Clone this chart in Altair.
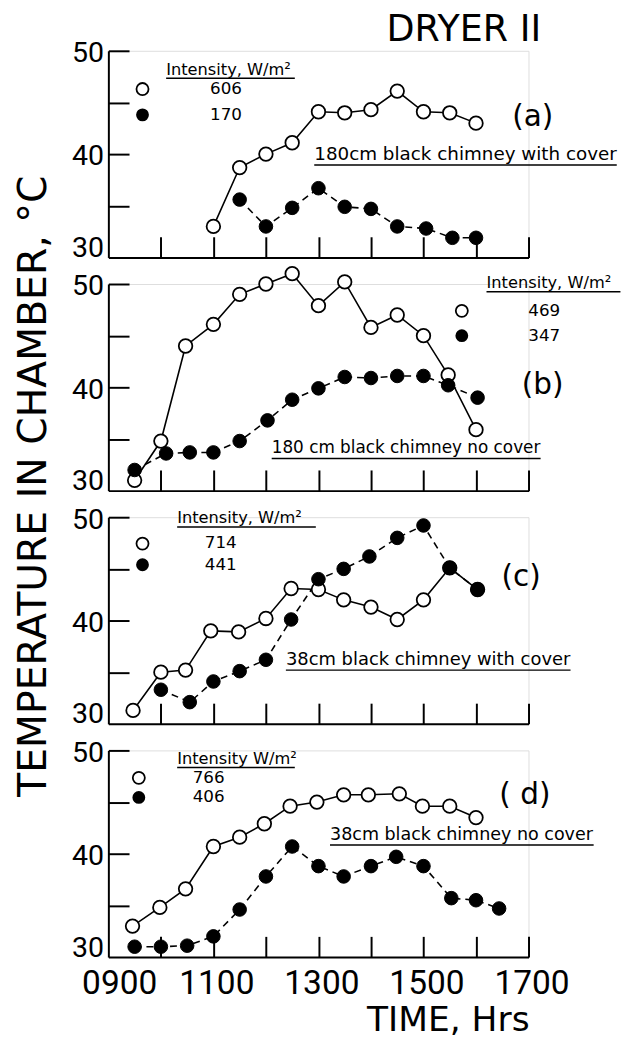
import altair as alt
import pandas as pd

# ---------------- data ----------------
A_OPEN_T = [11.0, 11.5, 12.0, 12.5, 13.0, 13.5, 14.0, 14.5, 15.0, 15.5, 16.0]
A_OPEN_V = [33.0, 38.7, 40.0, 41.1, 44.1, 44.0, 44.3, 46.1, 44.1, 44.0, 43.0]
A_FILL_T = [11.5, 12.0, 12.5, 13.0, 13.5, 14.0, 14.5, 15.05, 15.55, 16.0]
A_FILL_V = [35.6, 33.0, 34.8, 36.7, 34.9, 34.7, 33.0, 32.8, 31.9, 31.9]

B_OPEN_T = [9.5, 10.0, 10.47, 11.0, 11.5, 12.0, 12.5, 13.0, 13.5, 14.0, 14.5, 15.0, 15.47, 16.0]
B_OPEN_V = [31.0, 34.8, 44.0, 46.1, 49.0, 50.0, 51.0, 47.9, 50.2, 45.8, 47.0, 45.0, 41.2, 35.9]
B_FILL_T = [9.5, 10.1, 10.55, 11.0, 11.5, 12.03, 12.5, 13.0, 13.5, 14.0, 14.5, 15.0, 15.47, 16.03]
B_FILL_V = [32.0, 33.6, 33.7, 33.7, 34.8, 36.8, 38.8, 39.9, 41.0, 40.9, 41.1, 41.1, 40.2, 39.0]

C_OPEN_T = [9.47, 10.0, 10.47, 10.95, 11.48, 12.0, 12.48, 13.0, 13.48, 14.0, 14.5, 15.0, 15.5, 16.03]
C_OPEN_V = [31.3, 35.0, 35.2, 39.0, 38.9, 40.2, 43.1, 43.0, 42.0, 41.3, 40.1, 42.0, 45.1, 43.0]
C_FILL_T = [10.0, 10.55, 11.0, 11.5, 12.0, 12.48, 13.0, 13.48, 13.97, 14.5, 15.0, 15.5, 16.03]
C_FILL_V = [33.3, 32.1, 34.1, 35.1, 36.2, 40.1, 44.0, 45.0, 46.2, 48.0, 49.2, 45.1, 43.0]

D_OPEN_T = [9.46, 9.98, 10.47, 11.0, 11.5, 11.97, 12.46, 12.97, 13.48, 13.95, 14.54, 14.98, 15.5, 16.0]
D_OPEN_V = [33.0, 34.8, 36.6, 40.7, 41.6, 42.9, 44.6, 45.0, 45.7, 45.7, 45.8, 44.6, 44.6, 43.5]
D_FILL_T = [9.5, 10.0, 10.5, 11.0, 11.5, 12.0, 12.5, 13.0, 13.48, 14.0, 14.48, 15.0, 15.53, 16.0, 16.44]
D_FILL_V = [31.0, 31.0, 31.1, 32.0, 34.6, 37.8, 40.7, 38.8, 37.8, 38.8, 39.7, 38.8, 35.7, 35.5, 34.7]

FIGURE_TITLE = "DRYER II"
INTENSITY_OPEN = ["606", "469", "714", "766"]
INTENSITY_FILL = ["170", "347", "441", "406"]
LEGEND_TITLES = ["Intensity, W/m²", "Intensity, W/m²", "Intensity, W/m²", "Intensity W/m²"]
PANEL_LABELS = ["(a)", "(b)", "(c)", "( d)"]
CHIMNEY_LABELS = [
    "180cm black chimney with cover",
    "180 cm black chimney no cover",
    "38cm black chimney with cover",
    "38cm black chimney no cover",
]
X_LABEL_TICKS = [9, 11, 13, 15, 17]
X_MINOR_TICKS = [10, 11, 12, 13, 14, 15, 16, 17]
Y_LABEL_TICKS = [30, 40, 50]
Y_MINOR_TICKS = [35, 40, 45, 50]

# ---------------- annotation placement (data units) ----------------
TITLE_POS = (17.24, 50.95)
# legend title (x, baseline y, underline y, underline end x)
LEG_TITLE_POS = [(10.10, 47.7, 47.35, 12.55), (16.20, 49.6, 49.25, 18.75),
                 (10.31, 49.4, 49.05, 12.95), (10.31, 48.7, 48.35, 12.55)]
# legend symbol x, value-label x, open row y, filled row y
LEG_ROWS = [(9.65, 11.24, 46.3, 43.8), (15.73, 17.3, 47.4, 45.0),
            (9.65, 11.14, 47.45, 45.4), (9.58, 10.91, 47.35, 45.45)]
PANEL_LABEL_POS = [(17.08, 43.6), (17.27, 40.2), (16.86, 44.2), (16.93, 45.7)]
# chimney label (x start, baseline y, underline y, underline end x)
CHIMNEY_POS = [(12.92, 39.4, 38.95, 18.68), (12.11, 33.6, 33.1, 17.23),
               (12.38, 35.7, 35.2, 17.8), (13.22, 41.3, 40.85, 18.24)]
CHIMNEY_FONT_SIZES = [18.6, 17.1, 18.2, 17.8]

W, H = 427, 210
NUM_FONT = "Roboto"
TXT_FONT = "DejaVu Sans"

xs = alt.Scale(domain=[9, 17], nice=False, zero=False)
ys = alt.Scale(domain=[30, 50], nice=False, zero=False)


def text_layer(df, **mark_kw):
    return alt.Chart(df).mark_text(color="black", **mark_kw).encode(
        x=alt.X("x:Q", scale=xs, axis=None), y=alt.Y("y:Q", scale=ys, axis=None), text="text:N")


def panel(i, open_t, open_v, fill_t, fill_v):
    first = i == 0
    last = i == 3
    df_o = pd.DataFrame({"t": open_t, "v": open_v})
    df_f = pd.DataFrame({"t": fill_t, "v": fill_v})

    xaxis_kw = dict(orient="bottom", values=X_LABEL_TICKS, ticks=False, labels=last,
                    domain=True, domainColor="black", domainWidth=2, grid=False,
                    labelFont=NUM_FONT, labelFontSize=34, labelColor="black",
                    labelPadding=10, labelFlush=False, labelOverlap=False,
                    labelOffset={"condition": {"test": "datum.value == 9", "value": 11},
                                 "value": 3},
                    labelExpr="datum.value < 10 ? '0' + (datum.value*100) : '' + (datum.value*100)")
    if last:
        xaxis_kw.update(title="TIME, Hrs", titleFont=TXT_FONT, titleFontSize=35,
                        titleFontWeight="normal", titleColor="black",
                        titleX=345, titleY=47, titleAlign="center", titleBaseline="top")
    else:
        xaxis_kw.update(title=None)

    yaxis_kw = dict(orient="left", values=Y_LABEL_TICKS, ticks=False, domain=True,
                    domainColor="black", domainWidth=2, grid=False,
                    labelFont=NUM_FONT, labelFontSize=29, labelColor="black",
                    labelPadding=5,
                    labelOffset={"condition": {"test": "datum.value == 30", "value": -10},
                                 "value": 2})
    if first:
        yaxis_kw.update(title="TEMPERATURE IN CHAMBER, °C", titleFont=TXT_FONT,
                        titleFontSize=40, titleFontWeight="normal", titleColor="black",
                        titleX=-76, titleY=442, titleAngle=-90, titleAlign="center",
                        titleBaseline="middle")
    else:
        yaxis_kw.update(title=None)

    line_o = alt.Chart(df_o).mark_line(color="black", strokeWidth=1.6).encode(
        x=alt.X("t:Q", scale=xs, axis=alt.Axis(**xaxis_kw)),
        y=alt.Y("v:Q", scale=ys, axis=alt.Axis(**yaxis_kw)),
    )
    line_f = alt.Chart(df_f).mark_line(color="black", strokeWidth=1.6, strokeDash=[7, 5]).encode(
        x=alt.X("t:Q", scale=xs, axis=None),
        y=alt.Y("v:Q", scale=ys, axis=None),
    )
    pts_o = alt.Chart(df_o).mark_point(shape="circle", size=190, filled=True, fill="white",
                                       stroke="black", strokeWidth=1.8, opacity=1).encode(
        x=alt.X("t:Q", scale=xs, axis=alt.Axis(orient="top", offset=-H, values=X_MINOR_TICKS,
                                              ticks=True, tickSize=21, tickWidth=2,
                                              tickColor="black", labels=False, domain=False,
                                              grid=False, title=None)),
        y=alt.Y("v:Q", scale=ys, axis=alt.Axis(orient="right", offset=-W, values=Y_MINOR_TICKS,
                                              ticks=True, tickSize=21, tickWidth=2,
                                              tickColor="black", labels=False, domain=False,
                                              grid=False, title=None)),
    )
    pts_f = alt.Chart(df_f).mark_point(shape="circle", size=190, filled=True, fill="black",
                                       stroke="black", strokeWidth=1, opacity=1).encode(
        x=alt.X("t:Q", scale=xs, axis=None),
        y=alt.Y("v:Q", scale=ys, axis=None),
    )

    lx, ly, luy, lux2 = LEG_TITLE_POS[i]
    sx, vx, oy, fy = LEG_ROWS[i]
    px, py = PANEL_LABEL_POS[i]
    cx, cy, cuy, cux2 = CHIMNEY_POS[i]

    t_leg = text_layer(pd.DataFrame({"x": [lx], "y": [ly], "text": [LEGEND_TITLES[i]]}),
                       align="left", baseline="alphabetic", font=TXT_FONT, fontSize=16.5)
    t_chim = text_layer(pd.DataFrame({"x": [cx], "y": [cy], "text": [CHIMNEY_LABELS[i]]}),
                        align="left", baseline="alphabetic", font=TXT_FONT,
                        fontSize=CHIMNEY_FONT_SIZES[i])
    under = pd.DataFrame({"x": [lx, cx], "x2": [lux2, cux2], "y": [luy, cuy]})
    r_under = alt.Chart(under).mark_rule(color="black", strokeWidth=1.5).encode(
        x=alt.X("x:Q", scale=xs, axis=None), x2="x2:Q", y=alt.Y("y:Q", scale=ys, axis=None))

    t_vals = text_layer(pd.DataFrame({"x": [vx, vx], "y": [oy, fy],
                                      "text": [INTENSITY_OPEN[i], INTENSITY_FILL[i]]}),
                        align="center", baseline="middle", font=TXT_FONT, fontSize=17)

    sym_o = alt.Chart(pd.DataFrame({"x": [sx], "y": [oy]})).mark_point(
        shape="circle", size=150, filled=True, fill="white", stroke="black",
        strokeWidth=1.8, opacity=1).encode(
        x=alt.X("x:Q", scale=xs, axis=None), y=alt.Y("y:Q", scale=ys, axis=None))
    sym_f = alt.Chart(pd.DataFrame({"x": [sx], "y": [fy]})).mark_point(
        shape="circle", size=170, filled=True, fill="black", opacity=1).encode(
        x=alt.X("x:Q", scale=xs, axis=None), y=alt.Y("y:Q", scale=ys, axis=None))

    plab = text_layer(pd.DataFrame({"x": [px], "y": [py], "text": [PANEL_LABELS[i]]}),
                      align="center", baseline="middle", font=TXT_FONT, fontSize=30)

    layers = [line_o, line_f, pts_o, pts_f, t_leg, t_chim, r_under, t_vals, sym_o, sym_f, plab]
    if first:
        layers.append(text_layer(
            pd.DataFrame({"x": [TITLE_POS[0]], "y": [TITLE_POS[1]], "text": [FIGURE_TITLE]}),
            align="right", baseline="alphabetic", font=TXT_FONT, fontSize=37))

    return alt.layer(*layers).resolve_axis(x="independent", y="independent").properties(
        width=W, height=H)


charts = [
    panel(0, A_OPEN_T, A_OPEN_V, A_FILL_T, A_FILL_V),
    panel(1, B_OPEN_T, B_OPEN_V, B_FILL_T, B_FILL_V),
    panel(2, C_OPEN_T, C_OPEN_V, C_FILL_T, C_FILL_V),
    panel(3, D_OPEN_T, D_OPEN_V, D_FILL_T, D_FILL_V),
]

chart = alt.vconcat(*charts, spacing=27, bounds="flush").properties(
    padding={"left": 5, "top": -6, "right": 0, "bottom": 5},
).configure_view(strokeWidth=0).configure(background="white")

chart.save("out.html", embed_options={"renderer": "svg", "actions": False})
